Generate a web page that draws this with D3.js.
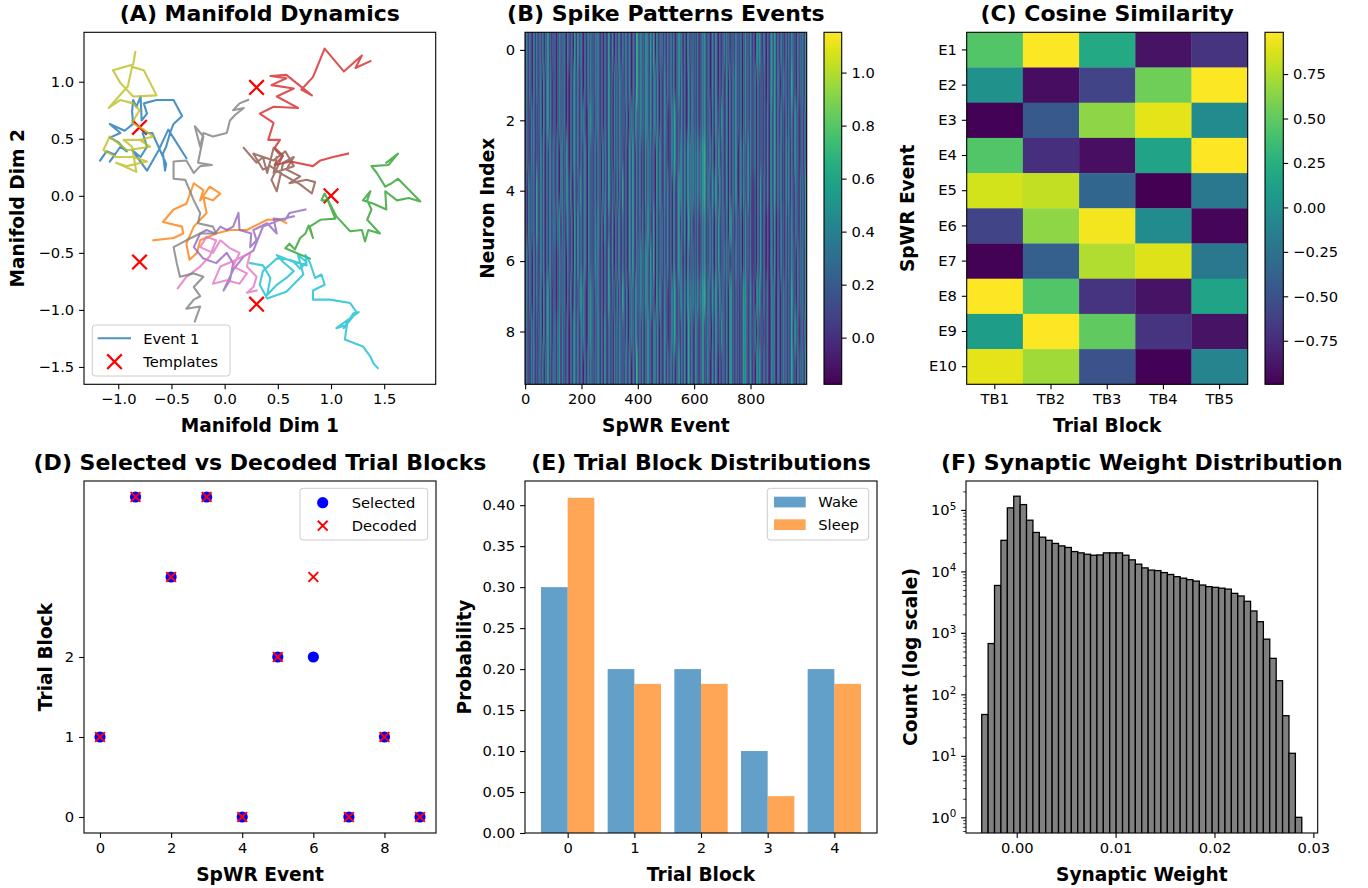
<!DOCTYPE html>
<html>
<head>
<meta charset="utf-8">
<script src="https://cdn.jsdelivr.net/npm/d3@7"></script>
<style>
body { margin: 0; background: #fff; }
text { font-family: "DejaVu Sans", sans-serif; }
</style>
</head>
<body>
<div id="chart"></div>
<script>
// ---------- data ----------

// (A) manifold trajectories, one array of [dim1, dim2] per event
var ev1 = [[-1.17,0.31],[-1.11,0.39],[-1.03,0.36],[-1.08,0.30],[-0.98,0.43],[-0.92,0.39],[-1.00,0.47],[-1.08,0.51],[-0.98,0.55],[-1.08,0.63],[-0.94,0.57],[-0.86,0.63],[-0.87,0.74],[-0.86,0.84],[-0.83,0.78],[-0.79,0.87],[-0.78,0.66],[-0.73,0.72],[-0.76,0.81],[-0.64,0.84],[-0.48,0.84],[-0.40,0.70],[-0.48,0.63],[-0.51,0.56],[-0.55,0.43],[-0.58,0.37],[-0.56,0.22],[-0.55,0.28],[-0.68,0.55],[-0.77,0.55],[-0.73,0.43],[-0.79,0.34],[-0.87,0.40],[-0.73,0.22],[-0.62,0.40],[-0.53,0.58],[-0.36,0.33]];
var ev2 = [[-0.67,-0.39],[-0.48,-0.37],[-0.39,-0.33],[-0.40,-0.27],[-0.58,-0.23],[-0.48,-0.12],[-0.36,-0.07],[-0.29,0.11],[-0.20,0.05],[-0.23,-0.04],[-0.14,0.08],[-0.04,0.02],[-0.11,-0.04],[-0.20,-0.01],[-0.17,-0.15],[-0.29,-0.27],[-0.36,-0.42],[-0.33,-0.56],[-0.26,-0.50],[-0.23,-0.39],[-0.08,-0.33],[0.05,-0.30],[0.21,-0.30],[0.27,-0.27],[0.40,-0.21],[0.52,-0.21],[0.58,-0.24]];
var ev3 = [[0.80,-0.55],[0.57,-0.46],[0.61,-0.42],[0.66,-0.47],[0.71,-0.37],[0.76,-0.33],[0.79,-0.26],[0.83,-0.37],[0.80,-0.27],[0.90,-0.21],[1.04,-0.20],[0.97,-0.04],[0.91,-0.04],[0.94,0.02],[1.05,-0.18],[1.18,-0.31],[1.29,-0.30],[1.32,-0.40],[1.35,-0.30],[1.46,-0.33],[1.34,-0.21],[1.38,-0.12],[1.34,-0.04],[1.37,0.04],[1.30,-0.04],[1.40,-0.07],[1.52,-0.12],[1.51,0.04],[1.62,-0.04],[1.73,-0.02],[1.84,-0.05],[1.63,0.15],[1.57,0.11],[1.51,0.08],[1.43,0.20],[1.38,0.26],[1.54,0.27],[1.63,0.37],[1.52,0.29]];
var ev4 = [[1.37,1.18],[1.23,1.12],[1.29,1.23],[1.12,1.09],[0.94,1.29],[0.83,1.04],[0.72,0.93],[0.82,0.88],[0.58,1.06],[0.43,1.05],[0.58,1.03],[0.44,0.97],[0.65,0.94],[0.49,0.87],[0.69,0.77],[0.46,0.78],[0.33,0.72],[0.46,0.64],[0.41,0.49],[0.52,0.49],[0.47,0.42],[0.55,0.35],[0.47,0.27],[0.62,0.30],[0.83,0.26],[0.90,0.31],[1.02,0.34],[1.16,0.37]];
var ev5 = [[0.76,-0.12],[0.61,-0.15],[0.57,-0.21],[0.46,-0.20],[0.49,-0.33],[0.40,-0.24],[0.27,-0.30],[0.30,-0.39],[0.24,-0.45],[0.25,-0.33],[0.14,-0.30],[0.13,-0.15],[0.08,-0.27],[0.02,-0.30],[-0.04,-0.27],[-0.09,-0.33],[-0.17,-0.30],[-0.23,-0.33],[-0.29,-0.45],[-0.20,-0.55],[-0.08,-0.59],[0.02,-0.50],[0.08,-0.59],[0.05,-0.74],[-0.01,-0.83],[0.08,-0.65],[0.18,-0.53],[0.27,-0.48],[0.36,-0.27],[0.52,-0.21],[0.65,-0.18]];
var ev6 = [[0.18,0.42],[0.30,0.29],[0.36,0.34],[0.40,0.20],[0.46,0.42],[0.54,0.34],[0.44,0.14],[0.49,0.04],[0.55,0.29],[0.65,0.34],[0.58,0.23],[0.71,0.17],[0.61,0.11],[0.77,0.14],[0.85,0.12],[0.82,0.02],[0.71,0.10],[0.52,0.20],[0.43,0.26],[0.36,0.23],[0.27,0.37],[0.46,0.31],[0.57,0.39],[0.65,0.26],[0.46,0.20],[0.49,0.34]];
var ev7 = [[-0.44,-0.81],[-0.36,-0.71],[-0.23,-0.62],[-0.14,-0.53],[-0.08,-0.39],[-0.17,-0.36],[-0.23,-0.45],[-0.11,-0.50],[-0.04,-0.39],[0.05,-0.46],[0.14,-0.50],[0.08,-0.62],[0.21,-0.68],[0.14,-0.77],[0.02,-0.74],[-0.11,-0.77],[-0.04,-0.62],[0.11,-0.56],[0.24,-0.50],[0.21,-0.62],[0.30,-0.71],[0.27,-0.80],[0.21,-0.85],[0.30,-0.83]];
var ev8 = [[0.22,0.84],[0.14,0.81],[0.08,0.75],[0.18,0.77],[0.10,0.71],[0.05,0.66],[0.02,0.55],[-0.11,0.52],[-0.20,0.55],[-0.23,0.43],[-0.28,0.61],[-0.20,0.52],[-0.25,0.29],[-0.12,0.27],[-0.23,0.26],[-0.29,0.20],[-0.36,0.31],[-0.48,0.30],[-0.48,0.15],[-0.37,0.14],[-0.29,-0.04],[-0.23,-0.15],[-0.25,-0.24],[-0.11,-0.27],[-0.08,-0.33],[-0.23,-0.33],[-0.36,-0.39],[-0.48,-0.45],[-0.45,-0.59],[-0.42,-0.71],[-0.29,-0.68],[-0.20,-0.71],[-0.29,-0.80],[-0.23,-0.88],[-0.29,-0.91],[-0.36,-0.99],[-0.23,-0.97],[-0.28,-1.10]];
var ev9 = [[-0.84,1.26],[-0.86,1.15],[-1.05,1.10],[-0.98,0.99],[-0.86,0.87],[-0.64,0.88],[-0.76,1.10],[-0.87,1.13],[-0.91,0.96],[-1.09,0.77],[-0.98,0.84],[-0.86,0.81],[-0.80,0.75],[-0.87,0.64],[-0.76,0.58],[-0.67,0.52],[-0.80,0.49],[-0.70,0.43],[-0.92,0.40],[-1.08,0.52],[-1.14,0.40],[-1.02,0.34],[-0.86,0.34],[-0.73,0.30],[-0.92,0.26],[-1.02,0.29],[-0.83,0.21],[-0.87,0.43],[-0.95,0.49],[-0.76,0.49]];
var ev10 = [[0.24,-0.59],[0.36,-0.61],[0.43,-0.72],[0.40,-0.87],[0.49,-0.78],[0.58,-0.72],[0.65,-0.66],[0.55,-0.58],[0.49,-0.52],[0.65,-0.58],[0.71,-0.64],[0.77,-0.58],[0.69,-0.52],[0.74,-0.69],[0.58,-0.84],[0.40,-0.90],[0.33,-0.78],[0.36,-0.66],[0.49,-0.55],[0.61,-0.56],[0.77,-0.61],[0.76,-0.52],[0.80,-0.58],[0.85,-0.72],[0.91,-0.69],[0.94,-0.78],[0.83,-0.83],[0.83,-0.91],[0.99,-0.91],[1.18,-0.94],[1.24,-1.02],[1.12,-1.16],[1.21,-1.03],[1.26,-1.02],[1.05,-1.16],[1.15,-1.13],[1.13,-1.26],[1.30,-1.32],[1.37,-1.41],[1.40,-1.47],[1.44,-1.51]];
var trajectories = [ev1, ev2, ev3, ev4, ev5, ev6, ev7, ev8, ev9, ev10];
var templatesX = [-0.80, 0.30, 1.00, -0.80, 0.30];
var templatesY = [0.60, 0.95, 0.00, -0.58, -0.95];

// (B) spike patterns: 10 neurons, each digit = one 5-event bin, mapped through spikeLevels
var spikeLevels = [-0.06, 0.06, 0.15, 0.24, 0.33, 0.43, 0.54, 0.67, 0.82, 0.98];
var spikeRows = [
  "2413205132 3150426213 1302514320 4213061524 2031425132 3521304126 1240315213 2513402317 4253164325 2605132413 1324150326 4213052314 2150324613 3024152031 1523403215 2314026132 4120536214 2031452613 1423051324 3205142316",
  "2413205132 2405136231 1302514320 2031542413 2031425132 3521304126 2305142431 2513402317 4253164325 1352403125 1324150326 2413025134 2150324613 3024152031 3125041326 2314026132 3215042131 2031452613 3025141236 3205142316",
  "1320524113 2405136231 1302514320 2031542413 3520146231 3521304126 2305142431 3140253162 4253164325 1352403125 3021546213 2413025134 2150324613 2304153216 3125041326 2314026132 3215042131 2140523613 1423051324 1534023142",
  "1320524113 1524031523 3142035126 2031542413 1342053124 1423052316 2305142431 1403526213 2413061532 3206153124 3021546213 5324163525 3261536724 1523042613 3125041326 3025143162 3215042131 2140523613 2513062413 1534023142",
  "3051423162 1524031523 3142035126 3150242136 1342053124 1423052316 3124051326 1403526213 2413061532 3206153124 2413052136 5324163525 3261536724 4135263152 3125041326 3025143162 2103042513 2140523613 2513062413 2143051326",
  "3051423162 1524031523 2413605213 4213061524 1342053124 2531406213 1240315213 1403526213 2315042631 2605132413 2413052136 1325046231 2150324613 1523042613 2314056213 2314026132 2103042513 1020341502 1423051324 2143051326",
  "2413205132 1524031523 1302514320 4213061524 1342053124 3521304126 1240315213 1403526213 4253164325 2605132413 2413052136 4213052314 2150324613 1523042613 1523403215 2314026132 2103042513 1020341502 1423051324 3205142316",
  "2413205132 2405136231 1302514320 3150242136 3520146231 3521304126 3124051326 3140253162 4253164325 3206153124 3021546213 5324163525 3261536724 4135263152 2314056213 1402356213 4120536214 1320154203 3025141236 3205142316",
  "1320524113 2405136231 2413605213 2031542413 3520146231 2531406213 2305142431 3140253162 2315042631 1352403125 3021546213 1325046231 1530426215 2304153216 2314056213 1402356213 3215042131 1320154203 3025141236 1534023142",
  "1320524113 3150426213 2413605213 2031542413 2031425132 2531406213 2305142431 2513402317 2315042631 1352403125 1324150326 1325046231 1530426215 3024152031 2314056213 1402356213 4120536214 1320154203 3025141236 3205142316"
];
var spikeEvents = 1000;
var spikeMin = -0.176, spikeMax = 1.152;

// (C) cosine similarity
var simEvents = ["E1","E2","E3","E4","E5","E6","E7","E8","E9","E10"];
var simBlocks = ["TB1","TB2","TB3","TB4","TB5"];
var simValues = [
  [0.45, 0.97, 0.20, -0.90, -0.70],
  [0.00, -0.93, -0.60, 0.55, 0.97],
  [-0.98, -0.45, 0.65, 0.90, -0.05],
  [0.45, -0.72, -0.92, 0.15, 0.98],
  [0.85, 0.80, -0.35, -0.99, -0.20],
  [-0.60, 0.65, 0.95, -0.05, -0.97],
  [-0.98, -0.40, 0.75, 0.88, -0.20],
  [0.98, 0.45, -0.70, -0.90, 0.15],
  [0.10, 0.98, 0.50, -0.70, -0.90],
  [0.90, 0.70, -0.50, -0.98, -0.10]
];
var simMin = -0.995, simMax = 0.985;

// (D) selected vs decoded
var decodeEvents = [0,1,2,3,4,5,6,7,8,9];
var selectedBlock = [1,4,3,4,0,2,2,0,1,0];
var decodedBlock = [1,4,3,4,0,2,3,0,1,0];

// (E) trial block distributions
var trialBlocks = [0,1,2,3,4];
var wakeProb = [0.30, 0.20, 0.20, 0.10, 0.20];
var sleepProb = [0.409, 0.182, 0.182, 0.045, 0.182];

// (F) synaptic weight histogram
var weightMin = -0.00354, weightMax = 0.02883;
var weightCounts = [47,670,5900,32000,108000,167000,122000,68000,43000,36000,
  32000,28500,26000,24500,21000,20000,19000,18300,18500,20000,
  20000,20000,18300,15400,13100,11400,10500,10300,9560,8900,
  8200,7760,7350,6950,6000,5650,5500,5330,5150,4390,
  3980,3260,2270,1520,790,385,167,45,11,1];

// ---------- drawing ----------
var TICK = 14.7, LAB = 18.6, TTL = 22;
var tab10 = d3.schemeCategory10;

var svg = d3.select("#chart").append("svg")
    .attr("width", 1368).attr("height", 888);
var defs = svg.append("defs");

var boxA = {x0: 84, x1: 435.7, y0: 32.3, y1: 384.3};
var boxB = {x0: 525, x1: 806.7, y0: 32.3, y1: 384.3};
var boxC = {x0: 966.7, x1: 1247.7, y0: 32.3, y1: 384.3};
var boxD = {x0: 84, x1: 436, y0: 481, y1: 833};
var boxE = {x0: 525, x1: 877, y0: 481, y1: 833};
var boxF = {x0: 966, x1: 1317.7, y0: 481, y1: 833};

function styleAxis(g) {
  g.attr("font-family", "DejaVu Sans").attr("font-size", TICK);
  g.select(".domain").remove();
  g.selectAll(".tick line").attr("stroke", "#000").attr("stroke-width", 1.1);
  g.selectAll(".tick text").attr("fill", "#000");
}
function bottomAxis(scale, box, ticks, fmt) {
  return svg.append("g").attr("transform", "translate(0," + box.y1 + ")")
    .call(d3.axisBottom(scale).tickValues(ticks).tickFormat(fmt).tickSize(4.9).tickPadding(4.4))
    .call(styleAxis);
}
function leftAxis(scale, box, ticks, fmt) {
  return svg.append("g").attr("transform", "translate(" + box.x0 + ",0)")
    .call(d3.axisLeft(scale).tickValues(ticks).tickFormat(fmt).tickSize(4.9).tickPadding(4.9))
    .call(styleAxis);
}
function frame(box) {
  svg.append("rect").attr("x", box.x0).attr("y", box.y0)
    .attr("width", box.x1 - box.x0).attr("height", box.y1 - box.y0)
    .attr("fill", "none").attr("stroke", "#000").attr("stroke-width", 1.1);
}
function title(box, txt) {
  svg.append("text").attr("x", (box.x0 + box.x1) / 2).attr("y", box.y0 - 11.5)
    .attr("text-anchor", "middle").style("font-weight", "bold").style("font-size", TTL + "px").text(txt);
}
function xLabel(box, txt) {
  svg.append("text").attr("x", (box.x0 + box.x1) / 2).attr("y", box.y1 + 47.5)
    .attr("text-anchor", "middle").style("font-weight", "bold").style("font-size", LAB + "px").text(txt);
}
function yLabel(box, x, txt) {
  svg.append("text").attr("transform", "translate(" + x + "," + ((box.y0 + box.y1) / 2) + ") rotate(-90)")
    .attr("text-anchor", "middle").style("font-weight", "bold").style("font-size", LAB + "px").text(txt);
}
function clip(id, box) {
  defs.append("clipPath").attr("id", id).append("rect")
    .attr("x", box.x0).attr("y", box.y0).attr("width", box.x1 - box.x0).attr("height", box.y1 - box.y0);
}
function xMark(sel, cx, cy, h, color, w) {
  sel.append("path").attr("d", "M" + (cx - h) + "," + (cy - h) + "L" + (cx + h) + "," + (cy + h) +
      "M" + (cx - h) + "," + (cy + h) + "L" + (cx + h) + "," + (cy - h))
    .attr("stroke", color).attr("stroke-width", w).attr("fill", "none");
}
function legendBox(x0, y0, x1, y1) {
  svg.append("rect").attr("x", x0).attr("y", y0).attr("width", x1 - x0).attr("height", y1 - y0)
    .attr("rx", 3).attr("fill", "#fff").attr("fill-opacity", 0.8).attr("stroke", "#cccccc").attr("stroke-width", 1);
}
function legendText(x, y, txt) {
  svg.append("text").attr("x", x).attr("y", y).attr("dy", "0.36em").style("font-size", TICK + "px").text(txt);
}

// ----- (A) Manifold Dynamics -----
var xA = d3.scaleLinear().domain([-1.322, 1.984]).range([boxA.x0, boxA.x1]);
var yA = d3.scaleLinear().domain([-1.652, 1.433]).range([boxA.y1, boxA.y0]);
clip("clipA", boxA);
var gA = svg.append("g").attr("clip-path", "url(#clipA)");
templatesX.forEach(function(tx, i) {
  xMark(gA, xA(tx), yA(templatesY[i]), 7.3, "#ff0000", 2.2);
});
var lineA = d3.line().x(function(d) { return xA(d[0]); }).y(function(d) { return yA(d[1]); });
gA.selectAll("path.traj").data(trajectories).enter().append("path")
  .attr("class", "traj")
  .attr("d", lineA)
  .attr("fill", "none")
  .attr("stroke", function(d, i) { return tab10[i]; })
  .attr("stroke-opacity", 0.8)
  .attr("stroke-width", 2.1)
  .attr("stroke-linejoin", "round")
  .attr("stroke-linecap", "square");
bottomAxis(xA, boxA, [-1, -0.5, 0, 0.5, 1, 1.5], d3.format(".1f"));
leftAxis(yA, boxA, [-1.5, -1, -0.5, 0, 0.5, 1], d3.format(".1f"));
frame(boxA);
title(boxA, "(A) Manifold Dynamics");
xLabel(boxA, "Manifold Dim 1");
yLabel(boxA, boxA.x0 - 60, "Manifold Dim 2");
legendBox(92.3, 325, 230, 376);
svg.append("line").attr("x1", 97.7).attr("x2", 131).attr("y1", 338.3).attr("y2", 338.3)
  .attr("stroke", tab10[0]).attr("stroke-opacity", 0.8).attr("stroke-width", 2.1);
legendText(143.3, 338.3, "Event 1");
xMark(svg, 114.5, 361.7, 7.3, "#ff0000", 2.2);
legendText(143.3, 361.7, "Templates");

// ----- (B) Spike Patterns Events -----
var xB = d3.scaleLinear().domain([-0.5, spikeEvents - 0.5]).range([boxB.x0, boxB.x1]);
var yB = d3.scaleLinear().domain([-0.5, spikeRows.length - 0.5]).range([boxB.y0, boxB.y1]);
var colB = d3.scaleSequential(d3.interpolateViridis).domain([spikeMin, spikeMax]);
clip("clipB", boxB);
defs.append("filter").attr("id", "blurB").attr("x", -0.1).attr("y", -0.2).attr("width", 1.2).attr("height", 1.4)
  .append("feGaussianBlur").attr("stdDeviation", "0.35 9");
var cellsB = [];
spikeRows.forEach(function(row, r) {
  var digits = row.replace(/ /g, "");
  var per = spikeEvents / digits.length;
  for (var j = 0; j < digits.length; j++) {
    cellsB.push({row: r, e0: j * per - 0.5, e1: (j + 1) * per - 0.5, v: spikeLevels[+digits[j]]});
  }
});
var nRows = spikeRows.length;
svg.append("g").attr("clip-path", "url(#clipB)")
  .append("g").attr("filter", "url(#blurB)")
  .selectAll("rect").data(cellsB).enter().append("rect")
  .attr("x", function(d) { return xB(d.e0); })
  .attr("width", function(d) { return xB(d.e1) - xB(d.e0) + 0.3; })
  .attr("y", function(d) { return yB(d.row - 0.5) - (d.row === 0 ? 40 : 0); })
  .attr("height", function(d) {
    return yB(d.row + 0.5) - yB(d.row - 0.5) + 0.5 + (d.row === 0 ? 40 : 0) + (d.row === nRows - 1 ? 40 : 0);
  })
  .attr("fill", function(d) { return colB(d.v); });
bottomAxis(xB, boxB, [0, 200, 400, 600, 800], d3.format("d"));
leftAxis(yB, boxB, [0, 2, 4, 6, 8], d3.format("d"));
frame(boxB);
title(boxB, "(B) Spike Patterns Events");
xLabel(boxB, "SpWR Event");
yLabel(boxB, boxB.x0 - 31, "Neuron Index");

function colorbar(id, x0, x1, y0, y1, lo, hi, ticks, fmt) {
  var grad = defs.append("linearGradient").attr("id", id)
    .attr("x1", 0).attr("y1", 1).attr("x2", 0).attr("y2", 0);
  d3.range(0, 1.0001, 0.05).forEach(function(t) {
    grad.append("stop").attr("offset", t).attr("stop-color", d3.interpolateViridis(t));
  });
  svg.append("rect").attr("x", x0).attr("y", y0).attr("width", x1 - x0).attr("height", y1 - y0)
    .attr("fill", "url(#" + id + ")");
  var s = d3.scaleLinear().domain([lo, hi]).range([y1, y0]);
  svg.append("g").attr("transform", "translate(" + x1 + ",0)")
    .call(d3.axisRight(s).tickValues(ticks).tickFormat(fmt).tickSize(4.9).tickPadding(4.9))
    .call(styleAxis);
  frame({x0: x0, x1: x1, y0: y0, y1: y1});
}
colorbar("cbB", 824, 841.7, boxB.y0, boxB.y1, spikeMin, spikeMax, [0, 0.2, 0.4, 0.6, 0.8, 1.0], d3.format(".1f"));

// ----- (C) Cosine Similarity -----
var xC = d3.scaleBand().domain(simBlocks).range([boxC.x0, boxC.x1]);
var yC = d3.scaleBand().domain(simEvents).range([boxC.y0, boxC.y1]);
var colC = d3.scaleSequential(d3.interpolateViridis).domain([simMin, simMax]);
var cellsC = [];
simValues.forEach(function(row, i) {
  row.forEach(function(v, j) { cellsC.push({ev: simEvents[i], tb: simBlocks[j], v: v}); });
});
svg.append("g").selectAll("rect").data(cellsC).enter().append("rect")
  .attr("x", function(d) { return xC(d.tb); })
  .attr("y", function(d) { return yC(d.ev); })
  .attr("width", xC.bandwidth() + 0.3)
  .attr("height", yC.bandwidth() + 0.3)
  .attr("fill", function(d) { return colC(d.v); });
bottomAxis(xC, boxC, simBlocks, null);
leftAxis(yC, boxC, simEvents, null);
frame(boxC);
title(boxC, "(C) Cosine Similarity");
xLabel(boxC, "Trial Block");
yLabel(boxC, boxC.x0 - 53, "SpWR Event");
colorbar("cbC", 1265, 1283.3, boxC.y0, boxC.y1, simMin, simMax, [-0.75, -0.5, -0.25, 0, 0.25, 0.5, 0.75], d3.format(".2f"));

// ----- (D) Selected vs Decoded -----
var xD = d3.scaleLinear().domain([-0.45, 9.45]).range([boxD.x0, boxD.x1]);
var yD = d3.scaleLinear().domain([-0.2, 4.2]).range([boxD.y1, boxD.y0]);
svg.append("g").selectAll("circle").data(decodeEvents).enter().append("circle")
  .attr("cx", function(d) { return xD(d); })
  .attr("cy", function(d, i) { return yD(selectedBlock[i]); })
  .attr("r", 5.6).attr("fill", "#0000ff");
var gD = svg.append("g");
decodeEvents.forEach(function(e, i) { xMark(gD, xD(e), yD(decodedBlock[i]), 4.9, "#ff0000", 2); });
bottomAxis(xD, boxD, [0, 2, 4, 6, 8], d3.format("d"));
leftAxis(yD, boxD, [0, 1, 2], d3.format("d"));
frame(boxD);
title(boxD, "(D) Selected vs Decoded Trial Blocks");
xLabel(boxD, "SpWR Event");
yLabel(boxD, boxD.x0 - 31.6, "Trial Block");
legendBox(300, 488.3, 427.7, 540);
svg.append("circle").attr("cx", 322.7).attr("cy", 502.7).attr("r", 5.6).attr("fill", "#0000ff");
legendText(351.7, 502.7, "Selected");
xMark(svg, 322.7, 525.7, 4.9, "#ff0000", 2);
legendText(351.7, 525.7, "Decoded");

// ----- (E) Trial Block Distributions -----
var xE = d3.scaleLinear().domain([-0.64, 4.64]).range([boxE.x0, boxE.x1]);
var yE = d3.scaleLinear().domain([0, 0.4295]).range([boxE.y1, boxE.y0]);
var barW = 0.4;
svg.append("g").selectAll("rect").data(trialBlocks).enter().append("rect")
  .attr("x", function(d) { return xE(d - barW); })
  .attr("width", xE(barW) - xE(0))
  .attr("y", function(d, i) { return yE(wakeProb[i]); })
  .attr("height", function(d, i) { return yE(0) - yE(wakeProb[i]); })
  .attr("fill", "#1f77b4").attr("fill-opacity", 0.7);
svg.append("g").selectAll("rect").data(trialBlocks).enter().append("rect")
  .attr("x", function(d) { return xE(d); })
  .attr("width", xE(barW) - xE(0))
  .attr("y", function(d, i) { return yE(sleepProb[i]); })
  .attr("height", function(d, i) { return yE(0) - yE(sleepProb[i]); })
  .attr("fill", "#ff7f0e").attr("fill-opacity", 0.7);
bottomAxis(xE, boxE, trialBlocks, d3.format("d"));
leftAxis(yE, boxE, d3.range(0, 0.401, 0.05), d3.format(".2f"));
frame(boxE);
title(boxE, "(E) Trial Block Distributions");
xLabel(boxE, "Trial Block");
yLabel(boxE, boxE.x0 - 54, "Probability");
legendBox(767.3, 488.3, 868.7, 540);
svg.append("rect").attr("x", 774).attr("y", 496.7).attr("width", 31.7).attr("height", 10.7)
  .attr("fill", "#1f77b4").attr("fill-opacity", 0.7);
legendText(818.3, 502, "Wake");
svg.append("rect").attr("x", 774).attr("y", 519.3).attr("width", 31.7).attr("height", 10.7)
  .attr("fill", "#ff7f0e").attr("fill-opacity", 0.7);
legendText(818.3, 524.7, "Sleep");

// ----- (F) Synaptic Weight Distribution -----
var xF = d3.scaleLinear().domain([-0.00513, 0.03044]).range([boxF.x0, boxF.x1]);
var yF = d3.scaleLog().domain([Math.pow(10, -0.255), Math.pow(10, 5.47)]).range([boxF.y1, boxF.y0]);
var binW = (weightMax - weightMin) / weightCounts.length;
clip("clipF", boxF);
svg.append("g").attr("clip-path", "url(#clipF)")
  .selectAll("rect").data(weightCounts).enter().append("rect")
  .attr("x", function(d, i) { return xF(weightMin + i * binW); })
  .attr("width", xF(binW) - xF(0))
  .attr("y", function(d) { return yF(d); })
  .attr("height", function(d) { return boxF.y1 + 5 - yF(d); })
  .attr("fill", "#808080").attr("stroke", "#000").attr("stroke-width", 1.3);
bottomAxis(xF, boxF, [0, 0.01, 0.02, 0.03], d3.format(".2f"));
var minorF = [];
[-1, 0, 1, 2, 3, 4, 5].forEach(function(k) {
  for (var m = 2; m <= 9; m++) {
    var v = m * Math.pow(10, k);
    if (v > yF.domain()[0] && v < yF.domain()[1]) minorF.push(v);
  }
});
svg.append("g").attr("transform", "translate(" + boxF.x0 + ",0)")
  .call(d3.axisLeft(yF).tickValues(minorF).tickFormat("").tickSize(2.8))
  .call(styleAxis)
  .selectAll(".tick line").attr("stroke-width", 0.8);
var gFy = leftAxis(yF, boxF, [1, 10, 100, 1000, 10000, 100000], function() { return ""; });
gFy.selectAll(".tick text").each(function(d) {
  var t = d3.select(this);
  t.append("tspan").text("10");
  t.append("tspan").attr("dy", "-0.5em").style("font-size", "10.3px").text(Math.round(Math.log10(d)));
});
frame(boxF);
title(boxF, "(F) Synaptic Weight Distribution");
xLabel(boxF, "Synaptic Weight");
yLabel(boxF, boxF.x0 - 49, "Count (log scale)");
</script>
</body>
</html>
